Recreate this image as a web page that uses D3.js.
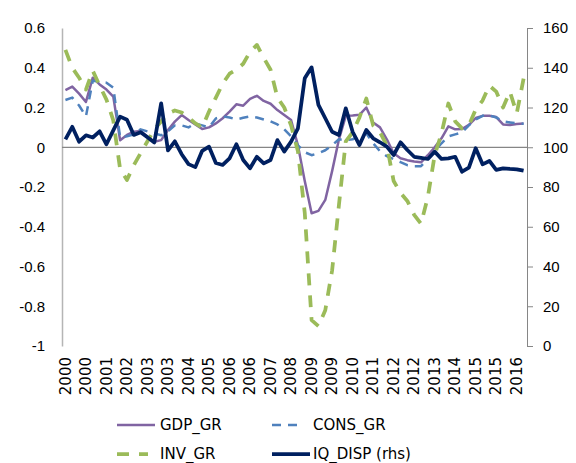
<!DOCTYPE html>
<meta charset="utf-8">
<style>
    body { margin: 0; background: #fff; }
    svg { font-family: 'DejaVu Sans', Verdana, sans-serif; font-size: 15px; }
</style>
<body>
<svg width="576" height="463" viewBox="0 0 576 463" id="chart"></svg>
<script src="https://d3js.org/d3.v7.min.js"></script>
<script>

    // quarterly, 2000Q1 .. 2016Q4
    var years = d3.range(2000, 2017);
    var quarters = [];
    years.forEach(function(y) { for (var q = 0; q < 4; q++) quarters.push(String(y)); });

    var gdpGr = [0.288, 0.305, 0.27, 0.228, 0.35, 0.316, 0.29, 0.255, 0.035, 0.062,
        0.078, 0.082, 0.053, 0.028, 0.036, 0.087, 0.129, 0.162, 0.137, 0.115,
        0.092, 0.1, 0.12, 0.146, 0.179, 0.216, 0.209, 0.243, 0.259, 0.233,
        0.219, 0.187, 0.162, 0.137, 0.01, -0.17, -0.332, -0.32, -0.265, -0.12,
        0.04, 0.158, 0.16, 0.163, 0.2, 0.125, 0.1, 0.04, -0.03, -0.055,
        -0.065, -0.072, -0.076, -0.04, 0.0, 0.045, 0.105, 0.09, 0.092, 0.113,
        0.147, 0.158, 0.158, 0.152, 0.115, 0.112, 0.117, 0.12];

    var consGr = [0.238, 0.25, 0.21, 0.155, 0.335, 0.33, 0.325, 0.3, 0.05, 0.055,
        0.065, 0.09, 0.08, 0.07, 0.06, 0.08, 0.11, 0.11, 0.1, 0.12,
        0.11, 0.1, 0.145, 0.155, 0.15, 0.14, 0.148, 0.155, 0.15, 0.14,
        0.13, 0.115, 0.09, 0.055, 0.01, -0.025, -0.04, -0.03, -0.015, 0.01,
        0.04, 0.035, 0.04, 0.06, 0.07, 0.02, -0.02, -0.045, -0.06, -0.075,
        -0.09, -0.095, -0.095, -0.06, -0.02, 0.02, 0.055, 0.065, 0.075, 0.11,
        0.14, 0.158, 0.16, 0.15, 0.13, 0.125, 0.12, 0.118];

    var invGr = [0.49, 0.4, 0.35, 0.29, 0.385, 0.31, 0.24, 0.135, -0.11, -0.165,
        -0.09, -0.03, 0.03, 0.09, 0.13, 0.17, 0.185, 0.175, 0.15, 0.12,
        0.1, 0.18, 0.25, 0.32, 0.37, 0.39, 0.42, 0.48, 0.515, 0.45,
        0.39, 0.25, 0.2, 0.11, -0.02, -0.33, -0.87, -0.9, -0.82, -0.62,
        -0.29, 0.03, 0.075, 0.15, 0.245, 0.11, 0.075, 0.01, -0.17, -0.23,
        -0.27, -0.34, -0.385, -0.25, -0.04, 0.07, 0.22, 0.13, 0.095, 0.11,
        0.19, 0.235, 0.31, 0.28, 0.2, 0.28, 0.17, 0.345];

    var iqDisp = [104, 110.3, 102.8, 106, 104.9, 108, 101.5, 108.5, 115.4, 113.8,
        106.2, 107.6, 105, 102.4, 122.1, 98.4, 103, 96.5, 91.5, 90,
        98.2, 100.3, 92.1, 91.1, 94.4, 101.5, 93.6, 89.4, 95.2, 91.9,
        93.6, 103.6, 97.8, 102.8, 109.5, 134.7, 140.2, 121.3, 114.6, 107.8,
        106.2, 119.6, 107.8, 101.1, 108.7, 104.5, 102.5, 100.3, 96.1, 102.5,
        98.6, 95.2, 94.7, 94.1, 97.8, 94.1, 94.4, 95.2, 87.7, 89.7,
        99.5, 91.4, 93.1, 88.6, 89.4, 89.1, 88.9, 88.2];

    var leftTicks = [0.6, 0.4, 0.2, 0, -0.2, -0.4, -0.6, -0.8, -1];
    var rightTicks = [0, 20, 40, 60, 80, 100, 120, 140, 160];

    var svg = d3.select("svg"),
        plot = {left: 62, right: 527, top: 28, bottom: 346};

    var x = d3.scaleBand()
        .domain(d3.range(quarters.length))
        .range([plot.left, plot.right]);

    var yL = d3.scaleLinear().domain([-1, 0.6]).range([plot.bottom, plot.top]);
    var yR = d3.scaleLinear().domain([0, 160]).range([plot.bottom, plot.top]);

    var cx = function(d, i) { return x(i) + x.bandwidth() / 2; };

    // left axis
    var gl = svg.append("g")
        .attr("transform", "translate(" + plot.left + ",0)")
        .call(d3.axisLeft(yL).tickValues(leftTicks).tickSize(0).tickPadding(17)
            .tickFormat(function(d) { return d === 0 ? "0" : String(+d.toFixed(1)); }));
    gl.select(".domain").attr("stroke", "#b5b5b5").attr("stroke-width", 1.5);
    gl.selectAll("text").attr("font-size", 15).attr("font-family", null).attr("fill", "#000");

    // right axis
    var gr = svg.append("g")
        .attr("transform", "translate(" + plot.right + ",0)")
        .call(d3.axisRight(yR).tickValues(rightTicks).tickSizeInner(6).tickSizeOuter(0).tickPadding(10));
    gr.select(".domain").attr("stroke", "#868686");
    gr.selectAll(".tick line").attr("stroke", "#868686");
    gr.selectAll("text").attr("font-size", 15).attr("font-family", null).attr("fill", "#000");

    // zero line (category axis)
    svg.append("line")
        .attr("x1", plot.left).attr("x2", plot.right)
        .attr("y1", yL(0)).attr("y2", yL(0))
        .attr("stroke", "#868686")
        .attr("stroke-width", 1.25);

    // category labels, every 3rd quarter
    svg.append("g")
        .selectAll("text")
        .data(d3.range(0, quarters.length, 3))
        .enter().append("text")
        .attr("transform", function(i) { return "translate(" + (x(i) + x.bandwidth() / 2) + ",357) rotate(-90)"; })
        .attr("text-anchor", "end")
        .attr("dy", "0.35em")
        .text(function(i) { return quarters[i]; });

    var series = [
        {name: "GDP_GR", values: gdpGr, y: yL, color: "#8064A2", width: 2.5, dash: null},
        {name: "CONS_GR", values: consGr, y: yL, color: "#4F81BD", width: 2.5, dash: "9,7"},
        {name: "INV_GR", values: invGr, y: yL, color: "#9BBB59", width: 3.75, dash: "12,10"},
        {name: "IQ_DISP (rhs)", values: iqDisp, y: yR, color: "#002060", width: 3.75, dash: null}
    ];

    series.forEach(function(s) {
        var line = d3.line()
            .x(cx)
            .y(function(d) { return s.y(d); });
        svg.append("path")
            .datum(s.values)
            .attr("fill", "none")
            .attr("stroke", s.color)
            .attr("stroke-width", s.width)
            .attr("stroke-linejoin", "round")
            .attr("stroke-dasharray", s.dash)
            .attr("d", line);
    });

    // legend
    var legendPos = [[117, 425], [272, 425], [117, 454], [272, 454]];
    var legend = svg.append("g")
        .selectAll("g")
        .data(series)
        .enter().append("g")
        .attr("transform", function(d, i) { return "translate(" + legendPos[i][0] + "," + legendPos[i][1] + ")"; });

    legend.append("line")
        .attr("x1", 0)
        .attr("x2", function(d) { return d.dash ? 31 : 38; })
        .attr("stroke", function(d) { return d.color; })
        .attr("stroke-width", function(d) { return d.width; })
        .attr("stroke-dasharray", function(d) { return d.dash; });

    legend.append("text")
        .attr("x", function(d, i) { return i % 2 ? 41 : 43; })
        .attr("dy", "0.32em")
        .text(function(d) { return d.name; });

</script>
</body>
